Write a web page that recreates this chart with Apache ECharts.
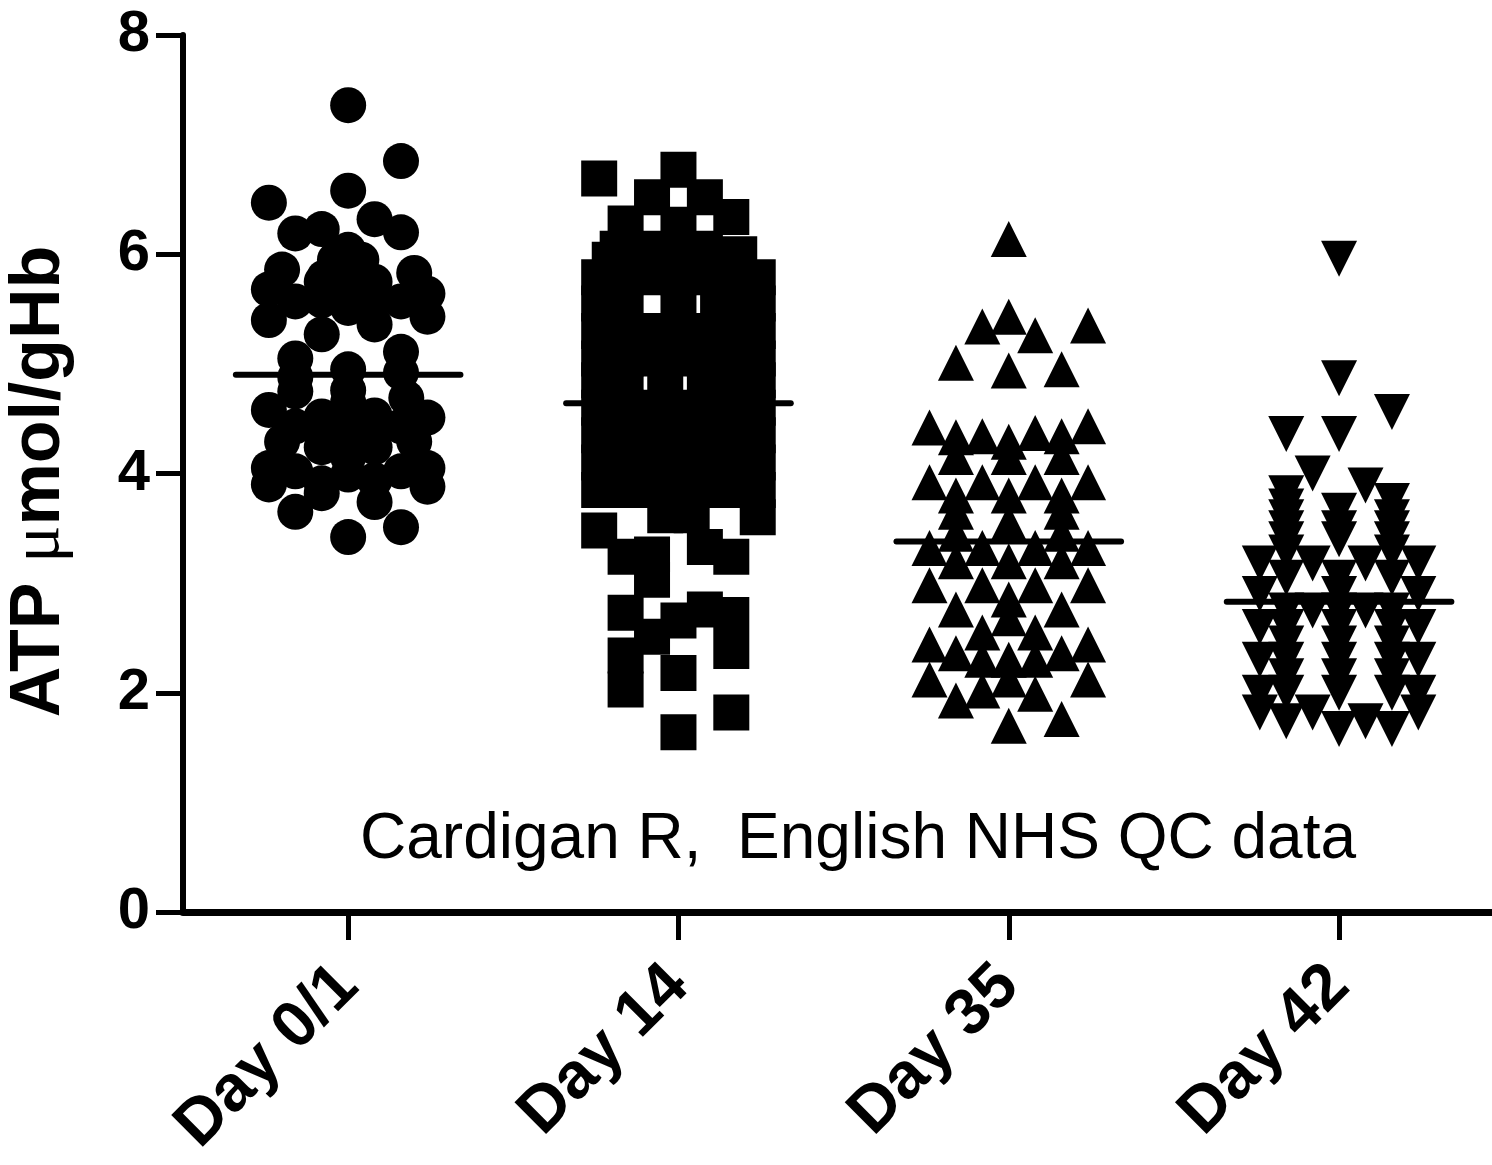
<!DOCTYPE html>
<html>
<head>
<meta charset="utf-8">
<script src="https://cdn.jsdelivr.net/npm/echarts@6/dist/echarts.min.js"></script>
<style>
html,body{margin:0;padding:0;background:#fff;}
#chart{width:1492px;height:1165px;}
</style>
</head>
<body>
<div id="chart"></div>
<script>
// ---- Data ----
const categories = ['Day 0/1', 'Day 14', 'Day 35', 'Day 42'];
const yTicks = [0, 2, 4, 6, 8];
const means = [4.90, 4.64, 3.38, 2.83];
const annotation = 'Cardigan R,  English NHS QC data';

// Day 0/1 (circles): value and its column slot in the scatter
const day01Values = [7.36, 6.85, 6.58, 6.47, 6.19, 6.23, 6.32, 6.20, 6.04, 5.86, 5.79, 5.83, 5.90,
  5.75, 5.75, 5.68, 5.64, 5.57, 5.58, 5.51, 5.58, 5.57, 5.40, 5.43, 5.27, 5.36, 5.05, 5.11, 4.95,
  4.88, 4.92, 4.76, 4.75, 4.69, 4.58, 4.51, 4.52, 4.53, 4.55, 4.43, 4.43, 4.29, 4.29, 4.31, 4.24,
  4.24, 4.05, 4.05, 4.02, 4.02, 3.90, 3.88, 3.91, 3.94, 3.99, 3.82, 3.65, 3.74, 3.42, 3.51,
  5.65, 5.95, 5.95, 4.65, 4.40, 4.15, 4.40, 4.40];
const day01Slots = [0, 2, 0, -3, -2, -1, 1, 2, 0, -2.5, -0.9, 2.5, 0,
  -1, 1, -3, 3, -2, -1, 0, 1, 2, -3, 3, -1, 1, -2, 2, 0,
  -2, 2, 0, -2, 2.2, -3, 3, -1, 1, 0, -2, 2, -2.5, 2.5, 0, -1,
  1, -3, 3, -2, 2, -3, 3, -1, 1, 0, -1, -2, 1, 0, 2,
  0, -0.5, 0.5, 0, 0, 0, -1, 1];

// Day 14 (squares)
const day14Values = [6.69, 6.77, 6.52, 6.52, 6.34, 6.28, 6.27, 6.00, 6.05, 6.05, 6.05, 6.00, 5.95,
  5.79, 5.79, 5.79, 5.79, 5.79, 5.79, 5.79,
  5.55, 5.55, 5.55, 5.55, 5.55, 5.55,
  5.30, 5.30, 5.30, 5.30, 5.30, 5.30, 5.30,
  5.05, 5.05, 5.05, 5.05, 5.05, 5.05, 5.05,
  4.85, 4.85, 4.85, 4.85, 4.85, 4.85,
  4.60, 4.60, 4.60, 4.60, 4.60, 4.60, 4.60,
  4.35, 4.35, 4.35, 4.35, 4.35, 4.35, 4.35,
  4.10, 4.10, 4.10, 4.10, 4.10, 4.10, 4.10,
  3.85, 3.85, 3.85, 3.85, 3.85, 3.85, 3.85,
  3.48, 3.60, 3.62, 3.62, 3.24, 3.26, 3.33, 3.24, 3.03, 2.73, 2.66, 2.76, 2.71, 2.51, 2.34, 2.38,
  2.18, 2.03, 1.82, 1.64];
const day14Slots = [-3, 0, -1, 1, 2, -2, 0, 2.3, -2.3, -1, 1, 0, -2.6,
  -3, -2, -1, 0, 1, 2, 3,
  -3, -2, 0, 1.5, 2, 3,
  -3, -2, -1, 0, 1, 2, 3,
  -3, -2, -1, 0, 1, 2, 3,
  -3, -2, -0.5, 1, 2, 3,
  -3, -2, -1, 0, 1, 2, 3,
  -3, -2, -1, 0, 1, 2, 3,
  -3, -2, -1, 0, 1, 2, 3,
  -3, -2, -1, 0, 1, 2, 3,
  -3, 3, -0.5, 0.5, -2, -1, 1, 2, -1, -2, 0, 1, 2, -1, -2, 2,
  0, -2, 2, 0];

// Day 35 (triangles)
const day35Values = [6.14, 5.43, 5.34, 5.35, 5.26, 5.01, 4.94, 4.95,
  4.42, 4.43, 4.33, 4.34, 4.29, 4.37, 4.34,
  4.15, 4.15, 4.15, 3.92, 3.92, 3.92, 3.92, 3.80, 3.80, 3.80,
  3.65, 3.65, 3.55, 3.45, 3.45, 3.32, 3.32, 3.32, 3.32, 3.20, 3.20, 3.20,
  2.98, 2.98, 2.98, 2.98, 2.85, 2.76, 2.76, 2.68, 2.55, 2.55,
  2.44, 2.44, 2.36, 2.36, 2.30, 2.30, 2.30, 2.12, 2.12, 2.12,
  2.02, 1.99, 1.93, 1.76, 1.70];
const day35Slots = [0, 0, -1, 3, 1, -2, 0, 2,
  -3, 3, -2, -1, 0, 1, 2,
  -2, 0, 2, -3, -1, 1, 3, -2, 0, 2,
  -2, 2, 0, -2, 2, -3, -1, 1, 3, -2, 0, 2,
  -3, -1, 1, 3, 0, -2, 2, 0, -1, 1,
  -3, 3, -2, 2, -1, 0, 1, -3, 0, 3,
  -1, 1, -2, 2, 0];

// Day 42 (inverted triangles)
const day42Values = [5.96, 4.87, 4.56, 4.36, 4.36, 4.00, 3.89, 3.82, 3.75, 3.66,
  3.70, 3.60, 3.60, 3.50, 3.50, 3.50, 3.40, 3.40, 3.40, 3.28, 3.28,
  3.18, 3.18, 3.18, 3.18, 3.05, 3.05, 3.05, 2.90, 2.90, 2.90,
  2.75, 2.75, 2.75, 2.75, 2.75, 2.60, 2.60, 2.60, 2.60, 2.60,
  2.45, 2.45, 2.45, 2.30, 2.30, 2.30, 2.30, 2.30, 2.15, 2.15, 2.15,
  2.00, 2.00, 2.00, 2.00, 2.00, 1.82, 1.82, 1.82, 1.74, 1.74, 1.67, 1.67];
const day42Slots = [0, 0, 2, -2, 0, -1, 1, -2, 2, 0,
  -2, -2, 2, -2, 0, 2, -2, 0, 2, -2, 2,
  -3, -1, 1, 3, -2, 0, 2, -3, 0, 3,
  -2, -1, 0, 1, 2, -3, -2, 0, 2, 3,
  -2, 0, 2, -3, -2, 0, 2, 3, -2, 0, 2,
  -3, -2, 0, 2, 3, -3, -1, 3, -2, 1, 0, 2];

// ---- Build chart ----
const SLOT = 0.08;          // horizontal spread of one column slot, in category units
const HALF_MEAN = 0.34;     // half length of the mean bar, in category units
const groups = [
  {values: day01Values, slots: day01Slots, symbol: 'circle', rotate: 0},
  {values: day14Values, slots: day14Slots, symbol: 'rect', rotate: 0},
  {values: day35Values, slots: day35Slots, symbol: 'triangle', rotate: 0},
  {values: day42Values, slots: day42Slots, symbol: 'triangle', rotate: 180}
];

const FONT = "Arial, 'Liberation Sans', Helvetica, sans-serif";
const series = [];
groups.forEach((g, i) => {
  series.push({
    name: categories[i],
    type: 'scatter',
    symbol: g.symbol,
    symbolSize: 36,
    symbolRotate: g.rotate,
    itemStyle: {color: '#000', opacity: 1},
    emphasis: {disabled: true},
    data: g.values.map((v, k) => [i + g.slots[k] * SLOT, v]),
    z: 2
  });
  series.push({
    type: 'line',
    data: [[i - HALF_MEAN, means[i]], [i + HALF_MEAN, means[i]]],
    symbol: 'none',
    lineStyle: {color: '#000', width: 6, cap: 'round'},
    z: 3,
    silent: true
  });
});

const chart = echarts.init(document.getElementById('chart'), null, {renderer: 'canvas'});
chart.setOption({
  animation: false,
  backgroundColor: '#fff',
  grid: {left: 183, right: 0, top: 35, bottom: 253, containLabel: false, outerBoundsMode: 'none'},
  xAxis: {
    type: 'value',
    min: -0.5,
    max: 3.463,
    axisLine: {show: true, onZero: false, lineStyle: {color: '#000', width: 7}},
    axisTick: {show: true, customValues: [0, 1, 2, 3], length: 28, lineStyle: {color: '#000', width: 5}},
    axisLabel: {
      show: true,
      customValues: [0, 1, 2, 3],
      formatter: v => categories[Math.round(v)],
      rotate: 45,
      margin: 64,
      color: '#000',
      fontSize: 65,
      fontWeight: 'bold',
      fontFamily: FONT
    },
    splitLine: {show: false}
  },
  yAxis: {
    type: 'value',
    min: 0,
    max: 8,
    interval: 2,
    axisLine: {show: true, onZero: false, lineStyle: {color: '#000', width: 6}},
    axisTick: {show: true, length: 27, lineStyle: {color: '#000', width: 5}},
    axisLabel: {
      color: '#000', fontSize: 58, fontWeight: 'bold', fontFamily: FONT, margin: 33,
      formatter: v => yTicks.includes(v) ? String(v) : ''
    },
    splitLine: {show: false},
    name: '{b|ATP }{m|μ}{b|mol/gHb}',
    nameLocation: 'middle',
    nameRotate: 90,
    nameGap: 108,
    nameTextStyle: {
      padding: [0, 16, 0, 0],
      rich: {
        b: {fontSize: 70, fontWeight: 'bold', color: '#000', fontFamily: FONT},
        m: {fontSize: 70, fontWeight: 'normal', color: '#000', fontFamily: "'Liberation Serif', 'DejaVu Serif', serif"}
      }
    }
  },
  graphic: [{
    type: 'text',
    left: 360,
    top: 808,
    style: {
      text: annotation,
      font: "64px Arial, 'Liberation Sans', sans-serif",
      fill: '#000'
    }
  }],
  series: series
});
</script>
</body>
</html>
